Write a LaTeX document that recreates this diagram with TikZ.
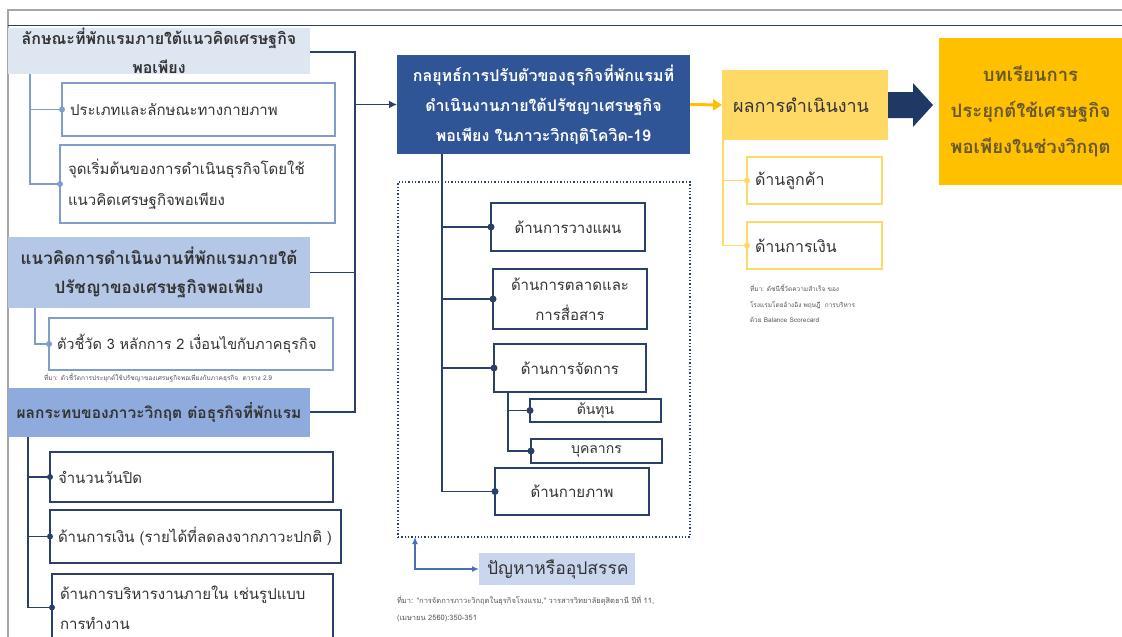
\documentclass[tikz,border=0pt]{standalone}
\usepackage{fontspec}
\setmainfont{Liberation Sans}
\newfontfamily\thai[Script=Thai]{Loma}
\usetikzlibrary{arrows.meta}
\definecolor{navy}{HTML}{2B3F6B}
\definecolor{deepblue}{HTML}{2F5597}
\definecolor{paleblue}{HTML}{DEE6F2}
\definecolor{softblue}{HTML}{B4C7E7}
\definecolor{midblue}{HTML}{8FAADC}
\definecolor{probfill}{HTML}{C9D6EE}
\definecolor{linkblue}{HTML}{7F9CCB}
\definecolor{arrowblue}{HTML}{4A6FB5}
\definecolor{gold}{HTML}{FFC000}
\definecolor{lightgold}{HTML}{FFD966}
\definecolor{ink}{HTML}{333333}
\definecolor{olive}{HTML}{66592E}
\definecolor{framegray}{HTML}{A6A6A6}
\definecolor{darkarrow}{HTML}{203864}
\definecolor{capgray}{HTML}{555555}

% box placed by its corners: name, style, x1, y1, x2, y2, text
\newcommand\placebox[7]{%
  \node[#2, anchor=north west,
        minimum width=\fpeval{#5-#3}pt, minimum height=\fpeval{#6-#4}pt,
        text width=\fpeval{#5-#3-16}pt] (#1) at (#3,#4) {#7};}

\begin{document}
\begin{tikzpicture}[x=1pt,y=-1pt,
  every node/.style={inner ysep=0pt, inner xsep=8pt, outer sep=0pt, font=\thai, text=ink},
  headA/.style={fill=paleblue, align=center, font=\thai\bfseries\fontsize{16}{29}\selectfont},
  headB/.style={fill=softblue, align=center, font=\thai\bfseries\fontsize{17}{29}\selectfont},
  headC/.style={fill=midblue, align=center, font=\thai\bfseries\fontsize{15.5}{29}\selectfont},
  softbox/.style={draw=linkblue, line width=1.2pt, fill=white, align=left, font=\thai\fontsize{15}{31}\selectfont},
  navybox/.style={draw=navy, line width=1.5pt, fill=white, align=left, font=\thai\fontsize{15}{30}\selectfont},
  midbox/.style={draw=navy, line width=1.5pt, fill=white, align=center, font=\thai\fontsize{15}{30}\selectfont},
  smallbox/.style={draw=navy, line width=1.5pt, fill=white, align=center, font=\thai\fontsize{14}{20}\selectfont},
  goldbox/.style={draw=lightgold, line width=1.5pt, fill=white, align=left, font=\thai\fontsize{16}{29}\selectfont},
  caption/.style={inner xsep=0pt, anchor=north west, align=left, text=capgray},
  softline/.style={draw=linkblue, line width=1.4pt},
  navyline/.style={draw=navy, line width=1.6pt},
  goldline/.style={draw=lightgold, line width=1.6pt},
]
\useasboundingbox (0,0) rectangle (1122,637);
\clip (0,0) rectangle (1122,637);

% page frame
\draw[framegray, line width=2pt] (8,637) -- (8,10) -- (1122,10);
\draw[navy, line width=0.8pt] (8,25) -- (1122,25);

% ---------- left column ----------
\placebox{hA}{headA}{8}{28}{310}{74}{ลักษณะที่พักแรมภายใต้แนวคิดเศรษฐกิจ\\พอเพียง}
\placebox{bA}{softbox}{62}{83}{335}{136}{ประเภทและลักษณะทางกายภาพ}
\placebox{bB}{softbox}{60}{145}{335}{223}{จุดเริ่มต้นของการดำเนินธุรกิจโดยใช้\\แนวคิดเศรษฐกิจพอเพียง}

\placebox{hB}{headB}{8}{237}{310}{308}{แนวคิดการดำเนินงานที่พักแรมภายใต้\\ปรัชญาของเศรษฐกิจพอเพียง}
\placebox{bI}{softbox, inner xsep=6pt, font=\thai\fontsize{14.5}{29}\selectfont}{49}{318}{333}{370}{ตัวชี้วัด 3 หลักการ 2 เงื่อนไขกับภาคธุรกิจ}
\node[caption, font=\thai\fontsize{6.5}{8}\selectfont] (capA) at (44,374)
  {ที่มา: ตัวชี้วัดการประยุกต์ใช้ปรัชญาของเศรษฐกิจพอเพียงกับภาคธุรกิจ\ \ ตาราง 2.9};

\placebox{hC}{headC, inner xsep=2pt}{8}{388}{310}{437}{ผลกระทบของภาวะวิกฤต ต่อธุรกิจที่พักแรม}
\placebox{bC}{navybox}{50}{452}{333}{502}{จำนวนวันปิด}
\placebox{bD}{navybox}{50}{510}{341}{563}{ด้านการเงิน (รายได้ที่ลดลงจากภาวะปกติ )}
\placebox{bE}{navybox}{52}{574}{333}{641}{ด้านการบริหารงานภายใน เช่นรูปแบบ\\การทำงาน}

% branch trunks of the left column
\coordinate (trA) at (30,74);
\coordinate (trB) at (35,308);
\coordinate (trC) at (28,437);
\draw[softline] (trA) |- (bA.west);
\draw[softline] (trA) |- (bB.west);
\draw[softline] (trB) |- (bI.west);
\draw[navyline] (trC) |- (bC.west);
\draw[navyline] (trC) |- (bD.west);
\draw[navyline] (trC) |- (bE.west);
\foreach \b in {bA,bB,bI} \fill[linkblue] (\b.west) circle (3pt);
\foreach \b in {bC,bD,bE} \fill[navy] (\b.west) circle (3pt);

% ---------- middle column ----------
\placebox{main}{fill=deepblue, align=center, text=white, font=\thai\bfseries\fontsize{16}{30}\selectfont}{397}{55}{690}{154}
  {กลยุทธ์การปรับตัวของธุรกิจที่พักแรมที่\\ดำเนินงานภายใต้ปรัชญาเศรษฐกิจ\\พอเพียง ในภาวะวิกฤติโควิด-19}

% collecting bus from the left headers into the strategy box
\coordinate (busTop) at (355,52);
\coordinate (busBot) at (355,412);
\draw[navyline] (hA.east |- busTop) -- (busTop) -- (busBot) -- (hC.east |- busBot);
\draw[navyline] (hB.east) -- (hB.east -| busTop);
\draw[navyline, -{Latex[length=8pt,width=8pt]}] (main.west -| busTop) -- (main.west);

\node[draw=navy, dotted, line width=1.3pt, anchor=north west, minimum width=292pt, minimum height=355pt,
      inner sep=0pt] (zone) at (398,182) {};

\placebox{pA}{midbox}{491}{203}{645}{251}{ด้านการวางแผน}
\placebox{pB}{midbox}{493}{269}{647}{329}{ด้านการตลาดและ\\การสื่อสาร}
\placebox{pC}{midbox}{494}{344}{646}{392}{ด้านการจัดการ}
\placebox{pCa}{smallbox}{530}{399}{661}{422}{ต้นทุน}
\placebox{pCb}{smallbox}{531}{439}{662}{463}{บุคลากร}
\placebox{pD}{midbox}{495}{468}{649}{515}{ด้านกายภาพ}

\coordinate (trM) at (442,154);
\coordinate (trS) at (508,392);
\foreach \b in {pA,pB,pC,pD} {\draw[navyline] (trM) |- (\b.west); \fill[navy] (\b.west) circle (3.5pt);}
\foreach \b in {pCa,pCb} {\draw[navyline] (trS) |- (\b.west); \fill[navy] (\b.west) circle (3.5pt);}

\placebox{prob}{fill=probfill, align=center, inner xsep=4pt, font=\thai\fontsize{17.5}{24}\selectfont}{479}{553}{635}{585}{ปัญหาหรืออุปสรรค}
\coordinate (probCorner) at (415,569);
\draw[arrowblue, line width=1.5pt, {Latex[length=7pt,width=6pt]}-{Latex[length=7pt,width=6pt]}]
  (zone.south -| probCorner) -- (probCorner) -- (prob.west);
\node[caption, font=\thai\fontsize{7.5}{17}\selectfont] (capB) at (397,596)
  {ที่มา: "การจัดการภาวะวิกฤตในธุรกิจโรงแรม," วารสารวิทยาลัยดุสิตธานี ปีที่ 11,\\(เมษายน 2560):350-351};

% ---------- right column ----------
\placebox{res}{fill=lightgold, align=left, inner xsep=11pt, font=\thai\fontsize{18}{24}\selectfont}{722}{70}{882}{140}{ผลการดำเนินงาน}
\draw[gold, line width=3pt, -{Triangle[length=9pt,width=11pt]}] (main.east) -- (res.west);

\placebox{rA}{goldbox}{747}{157}{882}{204}{ด้านลูกค้า}
\placebox{rB}{goldbox}{747}{222}{882}{269}{ด้านการเงิน}
\coordinate (trR) at (723,140);
\foreach \b in {rA,rB} {\draw[goldline] (trR) |- (\b.west); \fill[lightgold] (\b.west) circle (3pt);}
\node[caption, font=\thai\fontsize{6.5}{15.5}\selectfont] (capC) at (750,285)
  {ที่มา: ดัชนีชี้วัดความสำเร็จ ของ\\โรงแรมโดยอ้างอิง พฤษฎี\ \ การบริหาร\\ด้วย Balance Scorecard};

\placebox{lesson}{fill=gold, align=center, inner xsep=4pt, text=olive, font=\thai\bfseries\fontsize{18.5}{36}\selectfont}{939}{38}{1122}{185}
  {บทเรียนการ\\ประยุกต์ใช้เศรษฐกิจ\\พอเพียงในช่วงวิกฤต}

% block arrow from the results to the lessons
\coordinate (baTail) at (888,105);
\coordinate (baTip) at (933,105);
\fill[darkarrow] (baTail) ++(0,-13) -- ++(25,0) -- ++(0,-9) -- (baTip) -- (913,127) -- (913,118) -- (888,118) -- cycle;
\end{tikzpicture}
\end{document}
